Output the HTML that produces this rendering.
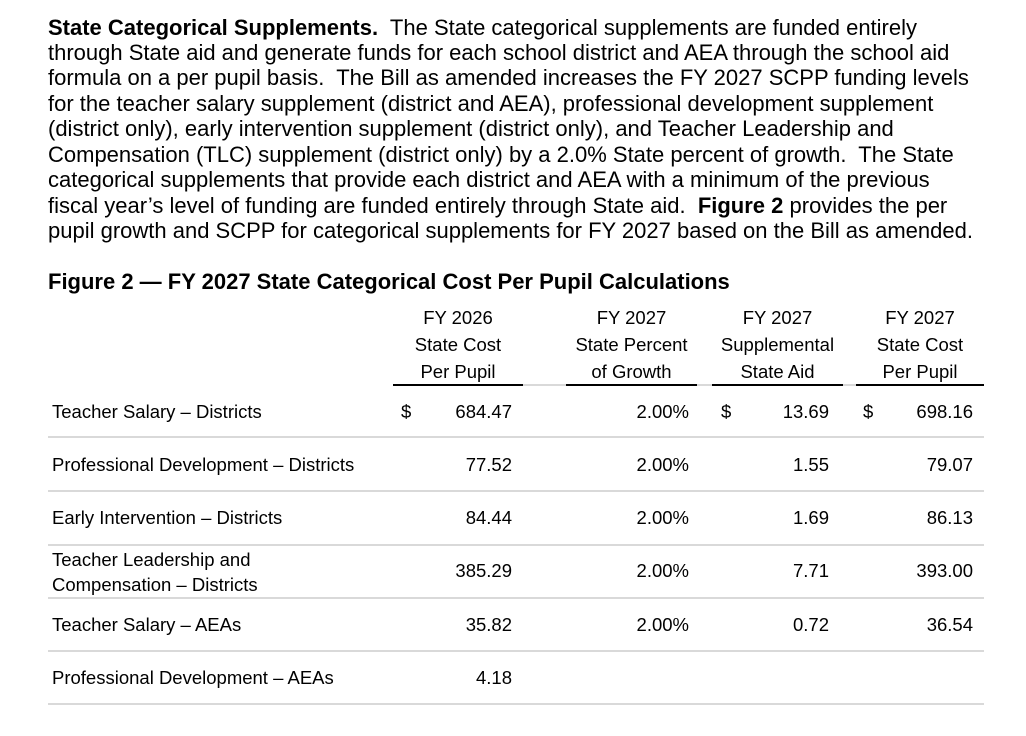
<!DOCTYPE html>
<html><head><meta charset="utf-8"><style>
body{margin:0;width:1026px;height:736px;background:#fff;position:relative;font-family:"Liberation Sans",Arial,sans-serif;color:#000;overflow:hidden}
.p{position:absolute;left:48px;font-size:22px;white-space:nowrap;line-height:25px}
.h{position:absolute;font-size:18.5px;white-space:nowrap;text-align:center;line-height:27px}
.c{position:absolute;font-size:18.5px;white-space:nowrap;line-height:20px}
.r{text-align:right}
.bl{position:absolute;height:2px;background:#000;top:384px}
.gl{position:absolute;height:2px;background:#d9d9d9;left:48px;width:936px}
</style></head><body>
<div class="p" style="top:15px"><b>State Categorical Supplements.</b>&nbsp; The State categorical supplements are funded entirely</div>
<div class="p" style="top:40px">through State aid and generate funds for each school district and AEA through the school aid</div>
<div class="p" style="top:65px">formula on a per pupil basis.&nbsp; The Bill as amended increases the FY 2027 SCPP funding levels</div>
<div class="p" style="top:91px">for the teacher salary supplement (district and AEA), professional development supplement</div>
<div class="p" style="top:116px">(district only), early intervention supplement (district only), and Teacher Leadership and</div>
<div class="p" style="top:142px">Compensation (TLC) supplement (district only) by a 2.0% State percent of growth.&nbsp; The State</div>
<div class="p" style="top:167px">categorical supplements that provide each district and AEA with a minimum of the previous</div>
<div class="p" style="top:193px">fiscal year’s level of funding are funded entirely through State aid.&nbsp; <b>Figure 2</b> provides the per</div>
<div class="p" style="top:218px">pupil growth and SCPP for categorical supplements for FY 2027 based on the Bill as amended.</div>
<div class="p" style="top:269px"><b>Figure 2 — FY 2027 State Categorical Cost Per Pupil Calculations</b></div>

<div class="h" style="left:393px;width:130px;top:304px">FY 2026<br>State Cost<br>Per Pupil</div>
<div class="h" style="left:566px;width:131px;top:304px">FY 2027<br>State Percent<br>of Growth</div>
<div class="h" style="left:712px;width:131px;top:304px">FY 2027<br>Supplemental<br>State Aid</div>
<div class="h" style="left:856px;width:128px;top:304px">FY 2027<br>State Cost<br>Per Pupil</div>
<div class="gl" style="top:384px;left:393px;width:591px"></div>
<div class="bl" style="left:393px;width:130px"></div>
<div class="bl" style="left:566px;width:131px"></div>
<div class="bl" style="left:712px;width:131px"></div>
<div class="bl" style="left:856px;width:128px"></div>

<div class="c" style="left:52px;top:402px">Teacher Salary – Districts</div>
<div class="c" style="left:401px;top:402px">$</div>
<div class="c r" style="right:514px;top:402px">684.47</div>
<div class="c r" style="right:337px;top:402px">2.00%</div>
<div class="c" style="left:721px;top:402px">$</div>
<div class="c r" style="right:197px;top:402px">13.69</div>
<div class="c" style="left:863px;top:402px">$</div>
<div class="c r" style="right:53px;top:402px">698.16</div>
<div class="gl" style="top:436px"></div>

<div class="c" style="left:52px;top:455px">Professional Development – Districts</div>
<div class="c r" style="right:514px;top:455px">77.52</div>
<div class="c r" style="right:337px;top:455px">2.00%</div>
<div class="c r" style="right:197px;top:455px">1.55</div>
<div class="c r" style="right:53px;top:455px">79.07</div>
<div class="gl" style="top:490px"></div>

<div class="c" style="left:52px;top:508px">Early Intervention – Districts</div>
<div class="c r" style="right:514px;top:508px">84.44</div>
<div class="c r" style="right:337px;top:508px">2.00%</div>
<div class="c r" style="right:197px;top:508px">1.69</div>
<div class="c r" style="right:53px;top:508px">86.13</div>
<div class="gl" style="top:544px"></div>

<div class="c" style="left:52px;top:547px;line-height:25px">Teacher Leadership and<br>Compensation – Districts</div>
<div class="c r" style="right:514px;top:561px">385.29</div>
<div class="c r" style="right:337px;top:561px">2.00%</div>
<div class="c r" style="right:197px;top:561px">7.71</div>
<div class="c r" style="right:53px;top:561px">393.00</div>
<div class="gl" style="top:597px"></div>

<div class="c" style="left:52px;top:615px">Teacher Salary – AEAs</div>
<div class="c r" style="right:514px;top:615px">35.82</div>
<div class="c r" style="right:337px;top:615px">2.00%</div>
<div class="c r" style="right:197px;top:615px">0.72</div>
<div class="c r" style="right:53px;top:615px">36.54</div>
<div class="gl" style="top:650px"></div>

<div class="c" style="left:52px;top:668px">Professional Development – AEAs</div>
<div class="c r" style="right:514px;top:668px">4.18</div>
<div class="gl" style="top:703px"></div>
</body></html>
